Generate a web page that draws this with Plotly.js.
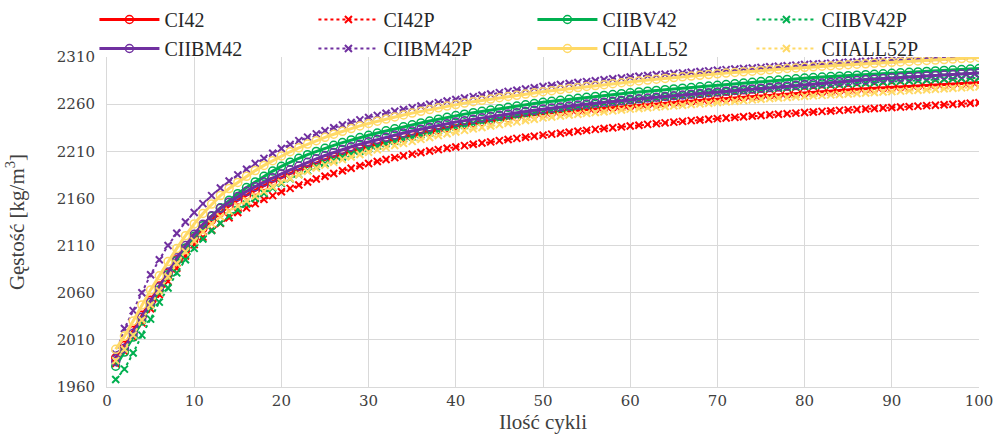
<!DOCTYPE html>
<html>
<head>
<meta charset="utf-8">
<script src="https://cdn.plot.ly/plotly-3.0.1.min.js"></script>
<style>html,body{margin:0;padding:0;background:#fff;}#chart{width:994px;height:440px;}</style>
</head>
<body>
<div id="chart"></div>
<script>
const cycles = Array.from({length: 100}, (_, i) => i + 1);

const seriesNames = ["CI42", "CI42P", "CIIBV42", "CIIBV42P", "CIIBM42", "CIIBM42P", "CIIALL52", "CIIALL52P"];

const CI42 = [1991,2004,2020,2036,2052,2067,2081,2095,2107,2118,
2128,2137,2145,2152,2158,2163.5,2168.5,2173.5,2178,2182,
2186.3,2190.3,2194.1,2197.7,2201.1,2204.3,2207.3,2210.1,2212.6,2215,
2217.6,2220.1,2222.5,2224.8,2227,2229.1,2231.1,2233.1,2235.1,2237,
2238.5,2240,2241.4,2242.8,2244.1,2245.4,2246.6,2247.8,2249,2250.2,
2251,2251.8,2252.6,2253.4,2254.2,2255,2255.8,2256.6,2257.4,2258.2,
2259,2259.7,2260.4,2261.1,2261.8,2262.5,2263.2,2263.9,2264.6,2265.3,
2266,2266.7,2267.4,2268.1,2268.8,2269.5,2270.2,2270.9,2271.5,2272.1,
2272.7,2273.3,2273.9,2274.5,2275.1,2275.7,2276.2,2276.8,2277.3,2277.9,
2278.4,2278.9,2279.4,2279.9,2280.4,2280.9,2281.4,2281.9,2282.4,2282.9];

const CI42P = [1985,1998,2013,2028,2043,2058,2072,2086,2099,2111,
2119,2126.5,2133.5,2139.5,2145,2150,2154.5,2159,2163,2167,
2170.7,2174.2,2177.5,2180.6,2183.6,2186.5,2189.3,2192,2194.6,2197,
2199.2,2201.3,2203.3,2205.2,2207,2208.7,2210.3,2211.8,2213.2,2214.6,
2216,2217.4,2218.7,2220,2221.3,2222.5,2223.7,2224.9,2226,2227.1,
2228.2,2229.2,2230.2,2231.2,2232.2,2233.2,2234.1,2235,2235.9,2236.8,
2237.7,2238.5,2239.3,2240.1,2240.9,2241.7,2242.5,2243.2,2243.9,2244.6,
2245.3,2246,2246.7,2247.4,2248,2248.7,2249.3,2249.9,2250.5,2251.1,
2251.7,2252.3,2252.8,2253.4,2253.9,2254.4,2254.9,2255.4,2255.9,2256.4,
2256.9,2257.4,2257.9,2258.4,2258.9,2259.4,2259.9,2260.4,2260.9,2261.5];

const CIIBV42 = [1982,1997,2013,2030,2047,2063,2079,2094,2107.5,2120,
2131,2141,2150,2158,2165,2171.5,2177.5,2183.5,2189,2194,
2198.5,2202.6,2206.4,2209.9,2213.2,2216.3,2219.2,2222,2224.6,2227,
2229.4,2231.7,2233.9,2236,2238.1,2240.1,2242.1,2244.1,2246,2247.9,
2249.4,2250.9,2252.4,2253.8,2255.2,2256.6,2258,2259.3,2260.6,2261.9,
2263,2264.1,2265.2,2266.2,2267.2,2268.2,2269.2,2270.2,2271.1,2272,
2272.9,2273.7,2274.5,2275.3,2276.1,2276.9,2277.6,2278.4,2279.2,2280,
2280.8,2281.6,2282.4,2283.2,2284,2284.8,2285.5,2286.2,2286.9,2287.6,
2288.2,2288.7,2289.2,2289.7,2290.2,2290.7,2291.2,2291.7,2292.2,2292.7,
2293.2,2293.7,2294.2,2294.7,2295.2,2295.7,2296.2,2296.7,2297.2,2297.8];

const CIIBV42P = [1968,1979,1996,2015,2032,2050,2065,2081,2095,2107,
2117,2126,2134,2141.5,2148,2154,2160,2165.5,2171,2176,
2180.8,2185.3,2189.5,2193.4,2197.1,2200.6,2203.9,2207.1,2210.1,2213,
2215.7,2218.3,2220.8,2223.2,2225.5,2227.7,2229.8,2231.9,2233.9,2235.9,
2237.7,2239.5,2241.2,2242.9,2244.5,2246.1,2247.6,2249.1,2250.6,2252,
2253.3,2254.6,2255.9,2257.1,2258.3,2259.5,2260.6,2261.7,2262.8,2263.9,
2264.8,2265.7,2266.6,2267.5,2268.4,2269.2,2270,2270.8,2271.6,2272.3,
2273,2273.7,2274.4,2275.1,2275.8,2276.5,2277.1,2277.7,2278.3,2278.9,
2279.5,2280,2280.5,2281,2281.5,2282,2282.5,2283,2283.5,2284,
2284.4,2284.8,2285.2,2285.6,2286,2286.4,2286.8,2287.2,2287.6,2288];

const CIIBM42 = [1987,2001,2017,2034,2050,2066,2082,2097,2110,2122,
2132.5,2141.5,2149.5,2156,2162,2167.5,2172.5,2177.3,2181.8,2186,
2190.3,2194.4,2198.3,2202,2205.5,2208.8,2211.9,2214.8,2217.5,2220,
2222.5,2224.9,2227.2,2229.4,2231.5,2233.5,2235.5,2237.4,2239.2,2241,
2242.5,2244,2245.5,2246.9,2248.3,2249.6,2250.9,2252.2,2253.5,2254.8,
2255.9,2257,2258.1,2259.1,2260.1,2261.1,2262.1,2263,2263.9,2264.8,
2265.7,2266.5,2267.3,2268.1,2268.9,2269.7,2270.5,2271.3,2272.1,2272.9,
2273.7,2274.5,2275.3,2276.1,2276.9,2277.7,2278.5,2279.3,2280.1,2280.9,
2281.6,2282.3,2283,2283.7,2284.4,2285.1,2285.8,2286.5,2287.2,2287.9,
2288.4,2288.9,2289.4,2289.9,2290.4,2290.9,2291.4,2291.9,2292.4,2292.9];

const CIIBM42P = [1995,2022,2041,2060,2079,2095,2110,2123,2135,2145,
2154.5,2163,2171,2178.5,2185,2191,2197,2202.5,2208,2213,
2217.3,2221.3,2225,2228.5,2231.8,2234.9,2237.8,2240.6,2243.3,2245.8,
2248.1,2250.3,2252.4,2254.4,2256.3,2258.1,2259.9,2261.6,2263.3,2265,
2266.5,2268,2269.4,2270.8,2272.2,2273.5,2274.8,2276.1,2277.4,2278.7,
2279.8,2280.9,2281.9,2282.9,2283.9,2284.9,2285.9,2286.9,2287.8,2288.7,
2289.5,2290.3,2291.1,2291.8,2292.5,2293.2,2293.9,2294.6,2295.3,2296,
2296.6,2297.2,2297.8,2298.4,2299,2299.6,2300.2,2300.8,2301.4,2302,
2302.5,2303,2303.5,2304,2304.5,2305,2305.5,2306,2306.5,2307,
2307.5,2308,2308.5,2309,2309.5,2310,2310.5,2311,2311.5,2312];

const CIIALL52 = [2000,2014,2030,2047,2063,2078,2093,2107,2120.5,2133,
2144,2154,2163,2170.5,2177,2183.5,2189.5,2195,2200,2205,
2209.5,2213.7,2217.6,2221.3,2224.8,2228.1,2231.2,2234.1,2236.9,2239.5,
2241.9,2244.2,2246.4,2248.5,2250.5,2252.4,2254.3,2256.1,2257.9,2259.6,
2261.1,2262.6,2264,2265.4,2266.8,2268.1,2269.4,2270.7,2272,2273.2,
2274.3,2275.4,2276.5,2277.6,2278.7,2279.7,2280.7,2281.7,2282.7,2283.7,
2284.6,2285.5,2286.4,2287.3,2288.2,2289,2289.8,2290.6,2291.4,2292.2,
2292.9,2293.6,2294.3,2295,2295.7,2296.4,2297.1,2297.8,2298.4,2299,
2299.6,2300.2,2300.8,2301.3,2301.8,2302.3,2302.8,2303.3,2303.8,2304.3,
2304.8,2305.3,2305.8,2306.3,2306.8,2307.3,2307.8,2308.3,2308.8,2309.5];

const CIIALL52P = [1988,2000,2015,2031,2047,2062,2077,2091,2103.5,2115,
2124.5,2133,2140.5,2146.5,2152,2157.5,2162.5,2167.5,2172.3,2177,
2181.2,2185.1,2188.7,2192.1,2195.3,2198.3,2201.2,2204,2206.6,2209,
2211.5,2213.9,2216.2,2218.4,2220.5,2222.6,2224.6,2226.6,2228.6,2230.5,
2232.2,2233.8,2235.3,2236.8,2238.3,2239.8,2241.2,2242.6,2244,2245.4,
2246.4,2247.4,2248.4,2249.3,2250.2,2251.1,2252,2252.9,2253.8,2254.7,
2255.4,2256.1,2256.8,2257.5,2258.2,2258.9,2259.6,2260.3,2261,2261.7,
2262.4,2263.1,2263.8,2264.5,2265.2,2265.9,2266.5,2267.1,2267.7,2268.3,
2268.8,2269.3,2269.8,2270.3,2270.8,2271.3,2271.8,2272.3,2272.8,2273.3,
2273.8,2274.3,2274.8,2275.3,2275.8,2276.3,2276.8,2277.3,2277.8,2278.3];

const yTicks = [1960, 2010, 2060, 2110, 2160, 2210, 2260, 2310];
const xTicks = [0, 10, 20, 30, 40, 50, 60, 70, 80, 90, 100];

const allValues = [CI42, CI42P, CIIBV42, CIIBV42P, CIIBM42, CIIBM42P, CIIALL52, CIIALL52P];
const colors = ["#FF0000", "#FF0000", "#00B050", "#00B050", "#7030A0", "#7030A0", "#FFD966", "#FFD966"];

const SERIF = "Liberation Serif";
const TICKFONT = "DejaVu Serif";

const traces = allValues.map((vals, i) => {
  const dotted = i % 2 === 1;
  return {
    x: cycles,
    y: vals,
    name: seriesNames[i],
    type: "scatter",
    mode: "lines+markers",
    line: {color: colors[i], width: dotted ? 2 : 3, dash: dotted ? "dot" : "solid"},
    marker: dotted
      ? {symbol: "x-thin-open", size: 7, color: colors[i], line: {color: colors[i], width: 2}}
      : {symbol: "circle-open", size: 8, color: colors[i], line: {color: colors[i], width: 1.5}}
  };
});

const layout = {
  width: 994,
  height: 440,
  margin: {l: 107, r: 15, t: 57, b: 53, autoexpand: false},
  paper_bgcolor: "#ffffff",
  plot_bgcolor: "#ffffff",
  font: {family: SERIF, color: "#404040", size: 18},
  showlegend: true,
  legend: {
    orientation: "h",
    xref: "container", yref: "container",
    x: 0.095, xanchor: "left",
    y: 1.0, yanchor: "top",
    entrywidth: 144, entrywidthmode: "pixels",
    font: {family: SERIF, size: 20, color: "#262626"},
    bgcolor: "rgba(255,255,255,0)",
    borderwidth: 0,
    itemwidth: 60
  },
  xaxis: {
    range: [0, 100],
    tickvals: xTicks,
    ticktext: xTicks.map(String),
    showgrid: true, gridcolor: "#d9d9d9", gridwidth: 1,
    zeroline: false,
    showline: true, linecolor: "#d9d9d9", linewidth: 1,
    ticks: "",
    automargin: false,
    tickfont: {family: TICKFONT, size: 15, color: "#404040"},
    title: {text: "Ilość cykli", font: {family: "Times New Roman", size: 21, color: "#404040"}, standoff: 4}
  },
  yaxis: {
    range: [1960, 2310],
    tickvals: yTicks,
    ticktext: yTicks.map(String),
    showgrid: true, gridcolor: "#d9d9d9", gridwidth: 1,
    zeroline: false,
    showline: true, linecolor: "#d9d9d9", linewidth: 1,
    ticks: "",
    automargin: false,
    ticklabelstandoff: 8,
    tickfont: {family: TICKFONT, size: 15, color: "#404040"},
    title: {text: "Gęstość [kg/m<sup>3</sup>]", font: {family: SERIF, size: 21, color: "#404040"}, standoff: 26}
  }
};

Plotly.newPlot("chart", traces, layout, {displayModeBar: false, staticPlot: true});
</script>
</body>
</html>
